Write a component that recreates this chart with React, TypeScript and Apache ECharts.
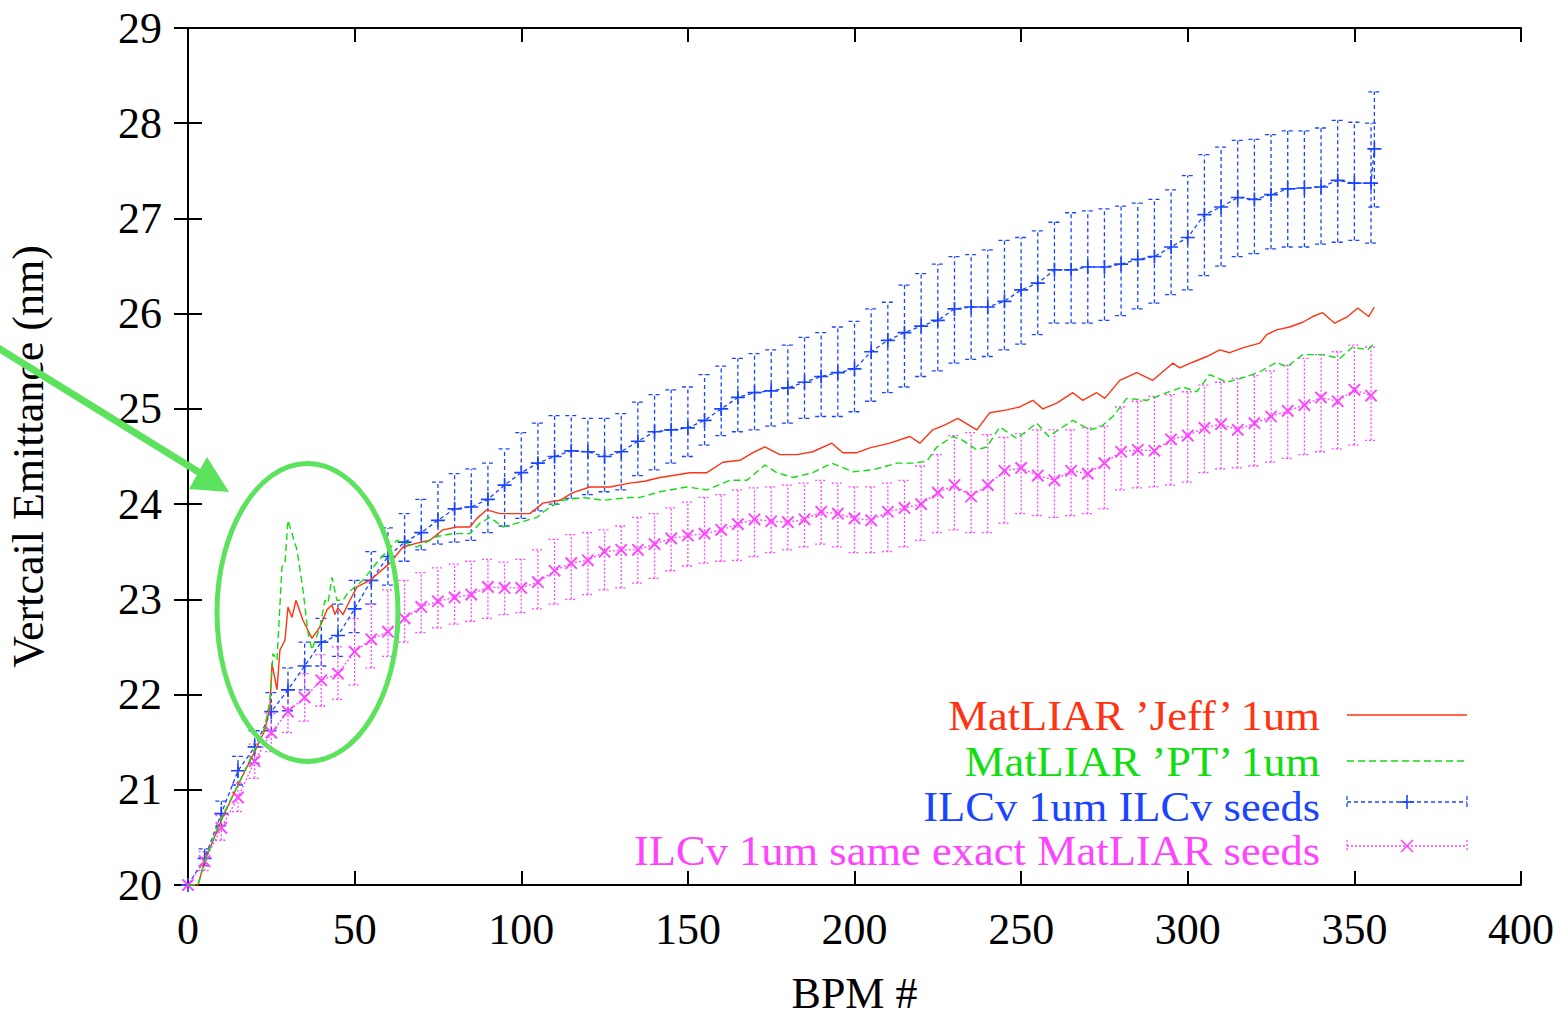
import React, { useEffect, useRef } from "react";
import * as echarts from "echarts";

// ---------- data ----------
const bpmX = [0,5,10,15,20,25,30,35,40,45,50,55,60,65,70,75,80,85,90,95,100,105,110,115,120,125,130,135,140,145,150,155,160,165,170,175,180,185,190,195,200,205,210,215,220,225,230,235,240,245,250,255,260,265,270,275,280,285,290,295,300,305,310,315,320,325,330,335,340,345,350,355];
const ilcX = [...bpmX, 356];

const ilcMean = [20.0,20.28,20.75,21.2,21.45,21.82,22.05,22.3,22.55,22.62,22.9,23.2,23.45,23.6,23.7,23.83,23.95,23.97,24.05,24.2,24.33,24.43,24.5,24.56,24.55,24.5,24.55,24.66,24.76,24.78,24.8,24.88,25.0,25.12,25.17,25.19,25.22,25.28,25.34,25.38,25.42,25.6,25.72,25.8,25.87,25.93,26.05,26.07,26.07,26.13,26.25,26.32,26.46,26.46,26.49,26.49,26.52,26.57,26.6,26.7,26.8,27.04,27.12,27.22,27.2,27.25,27.31,27.32,27.33,27.4,27.37,27.37,27.73];
const ilcLow = [20.0,20.2,20.62,21.05,21.28,21.62,21.83,22.05,22.3,22.4,22.65,22.95,23.15,23.4,23.52,23.58,23.6,23.62,23.7,23.77,23.85,23.93,24.0,24.06,24.1,24.13,24.15,24.3,24.36,24.43,24.5,24.62,24.72,24.76,24.78,24.82,24.85,24.9,24.92,24.92,24.97,25.08,25.17,25.23,25.34,25.4,25.48,25.52,25.55,25.62,25.68,25.78,25.9,25.9,25.9,25.93,25.98,26.05,26.11,26.2,26.25,26.4,26.5,26.6,26.63,26.68,26.7,26.7,26.73,26.75,26.77,26.74,27.12];
const ilcHigh = [20.0,20.38,20.88,21.35,21.62,22.02,22.28,22.55,22.8,22.95,23.2,23.5,23.75,23.9,24.05,24.23,24.32,24.37,24.43,24.58,24.75,24.85,24.93,24.93,24.9,24.9,24.95,25.07,25.15,25.2,25.23,25.36,25.45,25.53,25.58,25.62,25.67,25.75,25.8,25.86,25.92,26.05,26.12,26.3,26.42,26.52,26.6,26.62,26.67,26.77,26.8,26.87,26.96,27.06,27.08,27.1,27.13,27.16,27.2,27.3,27.45,27.67,27.75,27.82,27.83,27.88,27.92,27.92,27.95,28.03,28.01,28.0,28.33];

const matMean = [20.0,20.25,20.6,20.92,21.3,21.6,21.82,21.97,22.15,22.22,22.45,22.58,22.66,22.8,22.92,22.98,23.02,23.05,23.13,23.12,23.12,23.18,23.3,23.38,23.41,23.5,23.52,23.52,23.58,23.64,23.67,23.69,23.73,23.79,23.84,23.82,23.81,23.84,23.92,23.9,23.85,23.83,23.92,23.96,24.0,24.12,24.2,24.08,24.2,24.35,24.38,24.3,24.25,24.35,24.32,24.43,24.55,24.57,24.56,24.68,24.72,24.8,24.84,24.78,24.85,24.92,24.98,25.04,25.12,25.08,25.2,25.14];
const matLow = [20.0,20.15,20.47,20.77,21.12,21.4,21.6,21.72,21.88,21.95,22.1,22.28,22.4,22.55,22.65,22.7,22.74,22.77,22.8,22.84,22.86,22.9,22.95,23.0,23.05,23.1,23.12,23.17,23.22,23.3,23.35,23.38,23.4,23.41,23.45,23.49,23.52,23.55,23.58,23.55,23.49,23.49,23.5,23.55,23.62,23.7,23.73,23.7,23.7,23.8,23.9,23.88,23.86,23.88,23.9,23.95,24.15,24.17,24.18,24.2,24.23,24.33,24.37,24.38,24.4,24.44,24.48,24.52,24.55,24.58,24.62,24.67];
const matHigh = [20.0,20.35,20.73,21.07,21.48,21.8,22.05,22.22,22.42,22.5,22.8,22.95,23.1,23.2,23.28,23.33,23.37,23.4,23.42,23.39,23.42,23.52,23.63,23.68,23.7,23.73,23.77,23.86,23.9,23.96,24.02,24.07,24.1,24.15,24.17,24.18,24.2,24.22,24.25,24.22,24.18,24.18,24.22,24.25,24.4,24.52,24.72,24.75,24.73,24.7,24.74,24.78,24.78,24.78,24.8,24.82,25.02,25.08,25.13,25.15,25.18,25.25,25.28,25.32,25.35,25.4,25.46,25.53,25.57,25.6,25.67,25.65];

const jeffX = [0,3,5,10,15,20,23,24.6,25.2,26.7,27.6,29.1,30,31.2,32.4,34.5,37.2,39.6,41.7,43.2,44.1,45,46.5,48.6,50.7,54.6,60.6,64.5,68.7,72.6,76.5,80.7,84.6,86.7,89.7,93.6,97.5,102.6,106.5,111.6,115.5,120.6,126.6,132.6,137,141.6,145.5,150.6,155.7,160.5,165.6,169.5,173.1,177.6,182.7,187.5,193.2,196.5,200.7,204.6,210.6,216.6,219.6,223.5,227,231,236.7,240.6,245.7,249.6,253.5,256.5,260.7,265.5,268.5,272.7,275.1,279.6,284.7,289.5,295.5,297.6,301.5,305.7,309.6,312.6,316.5,321.6,323.7,326.7,330.6,334.5,337.5,340.5,344.1,348,351,354.3,356];
const jeffY = [20.0,20.0,20.25,20.68,21.05,21.4,21.62,21.87,22.33,22.05,22.47,22.57,22.92,22.81,22.99,22.78,22.59,22.71,22.89,22.94,22.84,22.91,22.84,22.99,23.13,23.2,23.38,23.55,23.59,23.62,23.73,23.76,23.76,23.85,23.94,23.9,23.9,23.9,24.01,24.04,24.12,24.18,24.18,24.22,24.24,24.28,24.3,24.33,24.33,24.44,24.46,24.54,24.6,24.52,24.52,24.55,24.64,24.54,24.54,24.59,24.64,24.71,24.64,24.78,24.83,24.9,24.78,24.96,24.99,25.02,25.09,25.0,25.06,25.17,25.09,25.17,25.11,25.3,25.38,25.3,25.48,25.43,25.49,25.55,25.62,25.59,25.64,25.69,25.78,25.83,25.86,25.91,25.97,26.01,25.9,25.97,26.06,25.97,26.07];

const ptX = [0,3,5,10,15,20,23,24.6,25.5,26.7,28.2,29.1,30,32.7,34.5,36,37.2,39.6,41.1,42,43.2,44.7,46.5,48,52.5,57,62.7,68.7,74.7,79.5,84.6,87.6,90.6,94.5,98.7,104.7,108.6,112.5,118.5,124.5,132.6,135.6,141.6,149.7,155.7,162.6,167.7,173.1,176.7,181.5,187.5,193.2,199.5,205.5,212.7,217.5,221.7,224.7,229.5,232.5,236.7,239.7,243.6,248.7,254.7,258.3,262.5,265.5,270.6,273.9,277.5,281.7,287.7,293.7,298.5,302.7,306.6,311.7,317.7,321.6,326.7,329.7,334.5,340.5,345.6,349.5,354,356];
const ptY = [20.0,20.0,20.25,20.7,21.05,21.42,21.65,21.94,22.43,22.36,23.34,23.38,23.83,23.52,23.1,22.65,22.47,22.71,22.99,22.96,23.23,22.99,22.99,23.07,23.2,23.4,23.62,23.55,23.66,23.69,23.69,23.8,23.86,23.76,23.8,23.86,23.97,24.04,24.07,24.04,24.07,24.07,24.13,24.18,24.15,24.25,24.25,24.41,24.33,24.28,24.33,24.43,24.34,24.36,24.43,24.43,24.45,24.6,24.71,24.67,24.57,24.6,24.81,24.69,24.85,24.71,24.81,24.88,24.78,24.81,24.92,25.11,25.09,25.17,25.23,25.18,25.36,25.28,25.34,25.39,25.49,25.44,25.57,25.57,25.53,25.65,25.62,25.69];

const xTicks = { min: 0, max: 400, interval: 50 };
const yTicks = { min: 20, max: 29, interval: 1 };

const legendLabels = [
  "MatLIAR \u2019Jeff\u2019 1um",
  "MatLIAR \u2019PT\u2019 1um",
  "ILCv 1um ILCv seeds",
  "ILCv 1um same exact MatLIAR seeds",
];

// ---------- styles ----------
const RED = "#ff3311";
const GREEN = "#11dd11";
const BLUE = "#1a44ff";
const MAGENTA = "#ff44ff";
const ANNOT = "#5ce25c";
const FONT = "'Liberation Serif', 'DejaVu Serif', serif";
const PLUS = "path://M4.4,0H5.6V4.4H10V5.6H5.6V10H4.4V5.6H0V4.4H4.4Z";

function errorBars(color: string, dash: number[]) {
  return (params: any, api: any) => {
    const x = api.value(0);
    const lo = api.coord([x, api.value(1)]);
    const hi = api.coord([x, api.value(2)]);
    const c = 6;
    const st = { stroke: color, lineWidth: 1.3, lineDash: dash, fill: null };
    return {
      type: "group",
      children: [
        { type: "line", shape: { x1: lo[0], y1: lo[1], x2: hi[0], y2: hi[1] }, style: st },
        { type: "line", shape: { x1: lo[0] - c, y1: lo[1], x2: lo[0] + c, y2: lo[1] }, style: st },
        { type: "line", shape: { x1: hi[0] - c, y1: hi[1], x2: hi[0] + c, y2: hi[1] }, style: st },
      ],
    };
  };
}

function axisCommon(showLabels: boolean) {
  return {
    axisLine: { show: true, lineStyle: { color: "#000", width: 2 } },
    axisTick: { show: true, inside: true, length: 14, lineStyle: { color: "#000", width: 2 } },
    axisLabel: { show: showLabels, color: "#000", fontFamily: FONT, fontSize: 44 },
    splitLine: { show: false },
  };
}

export default function App() {
  const ref = useRef<HTMLDivElement>(null);
  useEffect(() => {
    if (!ref.current) return;
    const chart = echarts.init(ref.current, undefined, { renderer: "svg" });

    const legendY = [715, 761, 806, 850];
    const legendColors = [RED, GREEN, BLUE, MAGENTA];
    const sx1 = 1347, sx2 = 1467, smid = 1407;
    const graphics: any[] = [];
    legendLabels.forEach((t, i) => {
      graphics.push({
        type: "text", x: 1320, y: legendY[i], scaleX: 1.06,
        style: { text: t, fill: legendColors[i], font: `42px ${FONT}`, lineHeight: 40, align: "right", verticalAlign: "middle" },
      });
    });
    graphics.push({ type: "line", shape: { x1: sx1, y1: legendY[0], x2: sx2, y2: legendY[0] }, style: { stroke: RED, lineWidth: 1.3 } });
    graphics.push({ type: "line", shape: { x1: sx1, y1: legendY[1], x2: sx2, y2: legendY[1] }, style: { stroke: GREEN, lineWidth: 1.3, lineDash: [7, 4] } });
    [2, 3].forEach((i) => {
      const col = legendColors[i];
      const dash = i === 2 ? [4, 3] : [2, 2];
      const y = legendY[i] - 4;
      graphics.push({ type: "line", shape: { x1: sx1, y1: y, x2: sx2, y2: y }, style: { stroke: col, lineWidth: 1.3, lineDash: dash } });
      graphics.push({ type: "line", shape: { x1: sx1, y1: y - 6, x2: sx1, y2: y + 6 }, style: { stroke: col, lineWidth: 1.3, lineDash: dash } });
      graphics.push({ type: "line", shape: { x1: sx2, y1: y - 6, x2: sx2, y2: y + 6 }, style: { stroke: col, lineWidth: 1.3, lineDash: dash } });
      if (i === 2) {
        graphics.push({ type: "line", shape: { x1: smid - 7, y1: y, x2: smid + 7, y2: y }, style: { stroke: col, lineWidth: 1.6 } });
        graphics.push({ type: "line", shape: { x1: smid, y1: y - 7, x2: smid, y2: y + 7 }, style: { stroke: col, lineWidth: 1.6 } });
      } else {
        graphics.push({ type: "line", shape: { x1: smid - 6, y1: y - 6, x2: smid + 6, y2: y + 6 }, style: { stroke: col, lineWidth: 1.6 } });
        graphics.push({ type: "line", shape: { x1: smid - 6, y1: y + 6, x2: smid + 6, y2: y - 6 }, style: { stroke: col, lineWidth: 1.6 } });
      }
    });
    // annotation: ellipse + arrow
    graphics.push({
      type: "ellipse", shape: { cx: 307.5, cy: 612.5, rx: 90.5, ry: 149 },
      style: { stroke: ANNOT, lineWidth: 5, fill: null }, z: 100,
    });
    graphics.push({
      type: "line", shape: { x1: -5, y1: 346, x2: 205, y2: 476 },
      style: { stroke: ANNOT, lineWidth: 7 }, z: 100,
    });
    graphics.push({
      type: "polygon", shape: { points: [[189, 489], [207, 457], [229, 492]] },
      style: { fill: ANNOT, stroke: null }, z: 100,
    });

    chart.setOption({
      animation: false,
      backgroundColor: "#fff",
      grid: { left: 188, right: 44, top: 28, bottom: 133, containLabel: false, outerBoundsMode: "none" },
      xAxis: [
        {
          type: "value", ...xTicks, position: "bottom", ...axisCommon(true),
          axisLabel: { show: true, color: "#000", fontFamily: FONT, fontSize: 44, margin: 22 },
          name: "BPM #", nameLocation: "middle", nameGap: 86,
          nameTextStyle: { color: "#000", fontFamily: FONT, fontSize: 44 },
        },
        { type: "value", ...xTicks, position: "top", ...axisCommon(false) },
      ],
      yAxis: [
        {
          type: "value", ...yTicks, position: "left", ...axisCommon(true),
          axisLabel: { show: true, color: "#000", fontFamily: FONT, fontSize: 44, margin: 26 },
          name: "Vertcail Emittance (nm)", nameLocation: "middle", nameGap: 138,
          nameTextStyle: { color: "#000", fontFamily: FONT, fontSize: 44 },
        },
        { type: "value", ...yTicks, position: "right", ...axisCommon(false) },
      ],
      graphic: graphics,
      series: [
        {
          type: "custom", name: legendLabels[2], renderItem: errorBars(BLUE, [4, 3]),
          data: ilcX.map((x, i) => [x, ilcLow[i], ilcHigh[i]]),
          encode: { x: 0, y: [1, 2] }, z: 2,
        },
        {
          type: "line", name: legendLabels[2], data: ilcX.map((x, i) => [x, ilcMean[i]]),
          lineStyle: { color: BLUE, width: 1.3, type: [4, 3] },
          symbol: PLUS, symbolSize: 14, itemStyle: { color: BLUE }, z: 3,
        },
        {
          type: "custom", name: legendLabels[3], renderItem: errorBars(MAGENTA, [2, 2]),
          data: bpmX.map((x, i) => [x, matLow[i], matHigh[i]]),
          encode: { x: 0, y: [1, 2] }, z: 2,
        },
        {
          type: "line", name: legendLabels[3], data: bpmX.map((x, i) => [x, matMean[i]]),
          lineStyle: { color: MAGENTA, width: 1.3, type: [2, 2] },
          symbol: PLUS, symbolRotate: 45, symbolSize: 16, itemStyle: { color: MAGENTA }, z: 3,
        },
        {
          type: "line", name: legendLabels[0], data: jeffX.map((x, i) => [x, jeffY[i]]),
          lineStyle: { color: RED, width: 1.4 }, symbol: "none", z: 4,
        },
        {
          type: "line", name: legendLabels[1], data: ptX.map((x, i) => [x, ptY[i]]),
          lineStyle: { color: GREEN, width: 1.4, type: [7, 4] }, symbol: "none", z: 4,
        },
      ],
    });
    return () => chart.dispose();
  }, []);
  return <div ref={ref} style={{ position: "absolute", left: 0, top: 0, width: 1565, height: 1018 }} />;
}
